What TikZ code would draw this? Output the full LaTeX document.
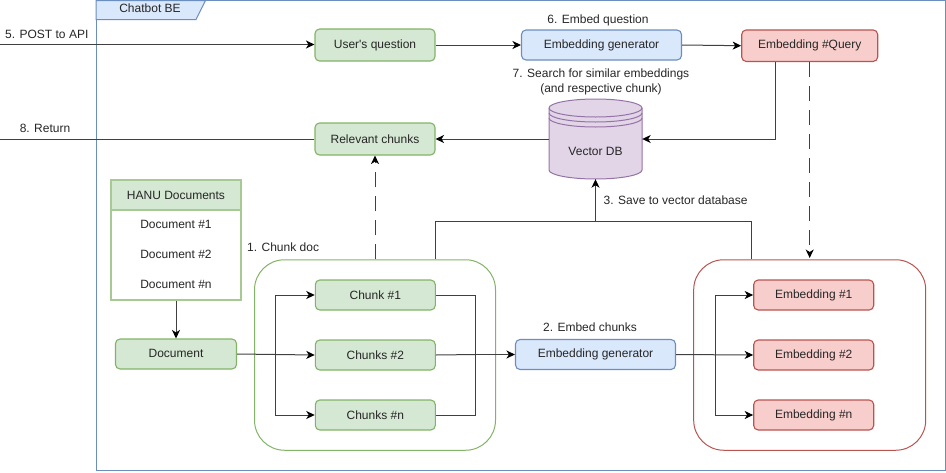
\documentclass[tikz,border=0pt]{standalone}
\usepackage{fontspec}
\newfontfamily\lib{Liberation Sans}
\usetikzlibrary{arrows.meta,calc}
\definecolor{gf}{HTML}{D5E8D4}\definecolor{gs}{HTML}{82B366}
\definecolor{bf}{HTML}{DAE8FC}\definecolor{bs}{HTML}{6C8EBF}
\definecolor{rf}{HTML}{F8CECC}\definecolor{rs}{HTML}{B85450}
\definecolor{pf}{HTML}{E1D5E7}\definecolor{ps}{HTML}{9673A6}
\tikzset{
  txt/.style={font=\lib\fontsize{12}{15}\selectfont,text=black!85,inner sep=0pt,align=center},
  box/.style={txt,draw,line width=1.1pt,rounded corners=4.5pt,minimum height=30pt,minimum width=120pt},
  gbox/.style={box,fill=gf,draw=gs},
  bbox/.style={box,fill=bf,draw=bs,minimum width=160pt},
  rbox/.style={box,fill=rf,draw=rs},
  grp/.style={draw,line width=1pt,rounded corners=30pt,inner sep=0pt},
  conn/.style={line width=1pt,black!75,-{Stealth[length=8.5pt,width=8pt,inset=2.5pt,black]}},
  plain/.style={line width=1pt,black!75},
  dashc/.style={conn,dash pattern=on 15pt off 9pt},
  row/.style={txt,minimum width=130pt,minimum height=30pt},
}
\begin{document}
\begin{tikzpicture}[x=1pt,y=-1pt]
\useasboundingbox (0,0) rectangle (946,472);
% frame
\node[draw=bs,line width=1pt,minimum width=849pt,minimum height=470pt,inner sep=0pt] (frame) at (520.5,235.5) {};
\draw[draw=bs,fill=bf,line width=1pt] (96,0.5) -- (205.5,0.5) -- (196,19.5) -- (96,19.5) -- cycle;
\node[txt] (title) at (150,8) {Chatbot BE};
% groups
\node[grp,draw=gs,minimum width=241pt,minimum height=190.5pt] (cgroup) at (375,355) {};
\node[grp,draw=rs,minimum width=232pt,minimum height=190.5pt] (egroup) at (809.7,355) {};
% top row
\node[gbox,minimum height=32pt] (question) at (375,45) {User's question};
\node[bbox] (gen1) at (601.5,45) {Embedding generator};
\node[rbox,minimum width=136pt,minimum height=31.5pt] (query) at (809.7,45.7) {Embedding \#Query};
\node[gbox,minimum height=32pt] (relevant) at (375,139) {Relevant chunks};
% DB
\node[inner sep=0pt,minimum width=93pt,minimum height=80pt] (db) at (595.5,139) {};
\draw[draw=ps,fill=pf,line width=1pt] (549,108) arc[start angle=180,end angle=360,x radius=46.5,y radius=9]
  -- (642,170) arc[start angle=0,end angle=180,x radius=46.5,y radius=9] -- cycle;
\foreach \yy in {108,113,118}
  \draw[draw=ps,line width=1pt] (549,\yy) arc[start angle=180,end angle=0,x radius=46.5,y radius=9];
\node[txt] (dbtxt) at (595.5,151.5) {Vector DB};
% documents
\node[draw=gs!70,fill=white,line width=1.5pt,minimum width=130pt,minimum height=120pt,inner sep=0pt] (docs) at (176,240) {};
\node[row,draw=gs!70,fill=gf,line width=1.5pt] (docsh) at (176,195) {HANU Documents};
\node[txt] (d1) at (176,224.5) {Document \#1};
\node[txt] (d2) at (176,254.5) {Document \#2};
\node[txt] (dn) at (176,284.5) {Document \#n};
\node[gbox,minimum width=121pt] (document) at (176,354) {};
\node[txt] (documentt) at (176,353.5) {Document};
% chunks
\node[gbox] (c1) at (375.3,295) {Chunk \#1};
\node[gbox] (c2) at (375.3,355) {Chunks \#2};
\node[gbox] (cn) at (375.3,415) {Chunks \#n};
\node[bbox] (gen2) at (595.5,354.5) {Embedding generator};
\node[rbox] (e1) at (813.7,295) {Embedding \#1};
\node[rbox] (e2) at (813.7,355) {Embedding \#2};
\node[rbox] (en) at (813.7,415) {Embedding \#n};
% free ends and branch points
\coordinate (in5) at (0,44.5);
\coordinate (out8) at (0,139);
\coordinate (bl) at (275.5,354.5);
\coordinate (br) at (475.7,354.5);
\coordinate (bre) at (715.7,354.5);
\coordinate (saveL) at (435,221);
\coordinate (saveR) at (751.7,221);
\coordinate (saveM) at (595.5,221);
\coordinate (qdown) at (775.7,139);
\coordinate (qtip) at (809.7,258);
% connectors
\draw[conn] (in5) -- (question.west |- in5);
\draw[plain] (relevant.west) -- (out8);
\draw[conn] (question.east) -- (gen1.west);
\draw[conn] (gen1.east) -- (query.west);
\draw[conn] (db.west) -- (relevant.east);
\draw[conn] (query.south -| qdown) -- (qdown) -- (db.east);
\draw[dashc] (query.south) -- (qtip);
\draw[dashc] (cgroup.north -| relevant.south) -- (relevant.south);
\draw[plain] (cgroup.north -| saveL) -- (saveL) -- (saveR) -- (egroup.north -| saveR);
\draw[conn] (saveM) -- (db.south);
\draw[conn] (docs.south) -- (document.north);
\draw[conn] (document.east) -- (c2.west);
\draw[conn] (bl) |- (c1.west);
\draw[conn] (bl) |- (cn.west);
\draw[plain] (c1.east) -| (br);
\draw[plain] (cn.east) -| (br);
\draw[plain] (c2.east) -- (br);
\draw[conn] (br) -- (gen2.west);
\draw[conn] (gen2.east) -- (e2.west);
\draw[conn] (bre) |- (e1.west);
\draw[conn] (bre) |- (en.west);
% labels
\node[txt,anchor=west] (l5) at (5,34.5) {5. POST to API};
\node[txt] (l8) at (45,128.5) {8. Return};
\node[txt] (l6) at (598,20.5) {6. Embed question};
\node[txt] (l7) at (601,82) {7. Search for similar embeddings\\(and respective chunk)};
\node[txt,anchor=west] (l3) at (603.5,200.5) {3. Save to vector database};
\node[txt,anchor=west] (l1) at (247,247.5) {1. Chunk doc};
\node[txt] (l2) at (590,327.5) {2. Embed chunks};
\end{tikzpicture}
\end{document}
